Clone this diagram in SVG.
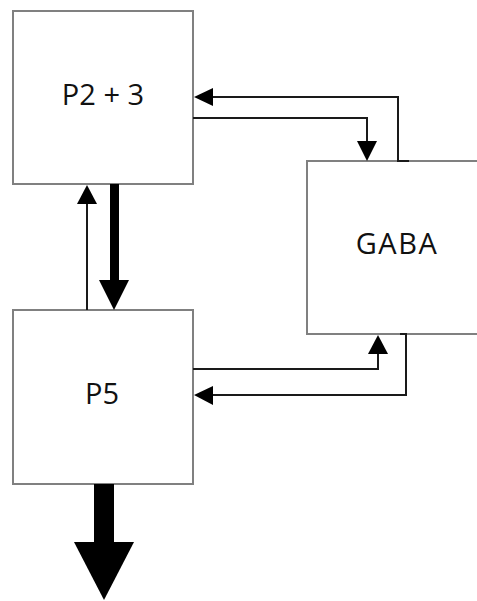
<svg xmlns="http://www.w3.org/2000/svg" width="477" height="601" viewBox="0 0 477 601">
  <style>
    .box { fill: #ffffff; stroke: #808080; stroke-width: 2; }
    .label { font-family: "Open Sans", "Noto Sans", sans-serif; font-size: 29px; fill: #111111; text-anchor: middle; }
    .wire { fill: none; stroke: #1a1a1a; stroke-width: 2; }
    .head { fill: #000000; }
  </style>
  <rect width="477" height="601" fill="#ffffff"/>

  <g id="node-p23">
    <rect class="box" x="13" y="11" width="180" height="173"/>
    <text class="label" x="103" y="105">P2 + 3</text>
  </g>

  <g id="node-gaba">
    <rect class="box" x="307" y="161" width="190" height="173"/>
    <text class="label" x="397" y="254" letter-spacing="1.5">GABA</text>
  </g>

  <g id="node-p5">
    <rect class="box" x="13" y="310" width="180" height="174"/>
    <text class="label" x="102" y="404">P5</text>
  </g>

  <g id="connectors">
    <!-- GABA -> P2+3 -->
    <polyline class="wire" points="409,161 398,161 398,97 212,97"/>
    <polygon class="head" points="194,97 213,88 213,106"/>
    <!-- P2+3 -> GABA -->
    <polyline class="wire" points="193,118 367,118 367,142"/>
    <polygon class="head" points="367,161 357,141 377,141"/>
    <!-- P5 -> P2+3 (thin) -->
    <line class="wire" x1="87" y1="310" x2="87" y2="203"/>
    <polygon class="head" points="87,185 77,204 97,204"/>
    <!-- P2+3 -> P5 (thick) -->
    <rect class="head" x="110" y="184" width="9" height="98"/>
    <polygon class="head" points="114,310 99,280 129,280"/>
    <!-- P5 -> GABA -->
    <polyline class="wire" points="193,369 378,369 378,353"/>
    <polygon class="head" points="378,335 368,354 388,354"/>
    <!-- GABA -> P5 -->
    <polyline class="wire" points="400,334 406,334 406,395 212,395"/>
    <polygon class="head" points="194,395 213,386 213,405"/>
    <!-- P5 output (large) -->
    <rect class="head" x="94" y="484" width="20" height="60"/>
    <polygon class="head" points="104,600 74,542 134,542"/>
  </g>
</svg>
